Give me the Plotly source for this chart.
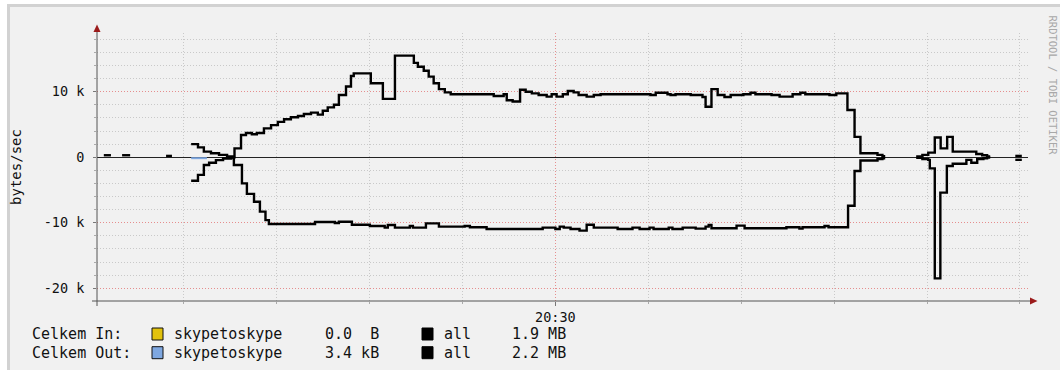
import plotly.graph_objects as go

# ---- data: traffic rate (bytes/sec), step samples; None breaks a line (unknown data)
DAY = "2011-05-10 "

all_in_times = [
    "20:05:42", "20:06:05", None,
    "20:06:41", "20:07:07", None,
    "20:09:03", "20:09:22", None,
    "20:10:24", "20:10:46", "20:11:05", "20:11:28", "20:11:54", "20:12:20", "20:12:39",
    "20:12:44", "20:13:05", "20:13:21", "20:13:40", "20:13:56", "20:14:19", "20:14:42",
    "20:15:04", "20:15:24", "20:15:46", "20:16:09", "20:16:28", "20:16:51", "20:17:13",
    "20:17:29", "20:17:45", "20:18:05", "20:18:21", "20:18:44", "20:19:00", "20:19:09",
    "20:20:04", "20:20:43", "20:21:22", "20:22:23", "20:22:36", "20:22:55", "20:23:11",
    "20:23:27", "20:23:44", "20:24:03", "20:24:22", "20:26:41", "20:27:13", "20:27:23",
    "20:27:42", "20:28:06", "20:28:24", "20:28:44", "20:29:06", "20:29:32", "20:29:48",
    "20:30:04", "20:30:24", "20:30:40", "20:30:59", "20:31:15", "20:31:41", "20:32:04",
    "20:32:26", "20:35:07", "20:35:24", "20:36:02", "20:36:12", "20:36:28", "20:37:17",
    "20:37:55", "20:38:05", "20:38:24", "20:38:44", "20:39:06", "20:39:26", "20:40:07",
    "20:40:30", "20:40:46", "20:41:38", "20:42:04", "20:42:46", "20:43:11", "20:43:27",
    "20:44:45", "20:45:07", "20:45:43", "20:46:06", "20:46:25", "20:47:20", "20:47:36",
    "20:47:45", None,
    "20:49:25", "20:49:45", "20:50:04", "20:50:25", "20:50:44", "20:51:05", "20:51:23",
    "20:52:39", "20:52:58", "20:53:14", "20:53:24", None,
    "20:54:45", "20:55:06",
]
all_in_values = [
    300, 300, None,
    300, 300, None,
    200, 200, None,
    2000, 1500, 850, 600, 350, 100, 0,
    1350, 3400, 3700, 3500, 3700, 4400, 4900,
    5400, 5800, 6100, 6300, 6600, 6800, 6500,
    7100, 7600, 8000, 9500, 10800, 12400, 12800,
    11300, 8900, 15500, 14400, 13800, 13200, 12300,
    11300, 10400, 9900, 9600, 9350, 9600, 8700,
    8500, 10300, 10000, 9750, 9500, 9250, 9600,
    9250, 9600, 10100, 9900, 9500, 9250, 9500,
    9600, 9500, 9850, 9600, 9500, 9600, 9500,
    9200, 7700, 10400, 9500, 9200, 9500, 9600,
    9850, 9600, 9500, 9250, 9600, 9850, 9600,
    9500, 9750, 7200, 3100, 600, 350, 150,
    150, None,
    100, 350, 700, 3000, 1350, 3100, 850,
    500, 300, 100, 100, None,
    200, 200,
]

all_out_times = [
    "20:10:24", "20:10:46", "20:11:05", "20:11:22", "20:11:44", "20:12:07", "20:12:33",
    "20:12:42", "20:13:08", "20:13:24", "20:13:47", "20:14:06", "20:14:24", "20:14:35",
    "20:17:04", "20:18:08", "20:18:21", "20:19:03", "20:20:01", "20:20:49", "20:20:59",
    "20:21:22", "20:22:10", "20:22:20", "20:23:02", "20:23:44", "20:25:07", "20:25:24",
    "20:26:18", "20:29:19", "20:30:00", "20:30:14", "20:30:27", "20:30:49", "20:31:18",
    "20:31:41", "20:32:04", "20:33:21", "20:34:09", "20:34:32", "20:35:04", "20:35:17",
    "20:36:06", "20:36:18", "20:36:51", "20:37:33", "20:38:05", "20:38:15", "20:38:24",
    "20:39:45", "20:40:11", "20:42:26", "20:43:08", "20:43:18", "20:44:29", "20:44:42",
    "20:45:45", "20:46:06", "20:46:25", "20:47:20", "20:47:36", "20:47:45", None,
    "20:49:25", "20:49:45", "20:50:04", "20:50:09", "20:50:25", "20:50:43", "20:51:04",
    "20:51:23", "20:52:07", "20:52:23", "20:52:42", "20:53:02", "20:53:14", "20:53:24", None,
    "20:54:45", "20:55:06",
]
all_out_values = [
    -3600, -2700, -1200, -850, -450, -200, -50,
    -1200, -4000, -5600, -6800, -8300, -9600, -10200,
    -9900, -10050, -9850, -10300, -10500, -10750, -10350,
    -10750, -10500, -10750, -10100, -10600, -10500, -10700,
    -10950, -10750, -10950, -10600, -10750, -10950, -11200,
    -10300, -10750, -10950, -10750, -10950, -10750, -10950,
    -10750, -10950, -10750, -10900, -10600, -10350, -10850,
    -10450, -10850, -10700, -10900, -10700, -10500, -10700,
    -7400, -2100, -500, -300, -150, -150, None,
    -100, -300, -400, -1700, -18500, -5400, -1350,
    -1000, -400, -850, -300, -150, -50, -50, None,
    -400, -400,
]

s2s_out_times = ["20:10:24", "20:11:15"]
s2s_out_values = [-300, -300]

x_range = ["20:05:20", "20:55:26"]
x_tick_times = ["20:30:00"]
x_tick_labels = ["20:30"]
y_tick_values = [-20000, -10000, 0, 10000]
y_tick_labels = ["-20 k", "-10 k", "0", "10 k"]
y_range = [-21950, 18960]

legend_labels = ["Celkem In:", "Celkem Out:"]
legend_series = ["skypetoskype", "skypetoskype"]
legend_s2s_totals = ["0.0\u00a0\u00a0B", "3.4\u00a0kB"]
legend_all_totals = ["1.9\u00a0MB", "2.2\u00a0MB"]

# ---- styling / geometry
W, H = 1060, 370
L, R, T, B = 97, 32, 33, 69
PW, PH = W - L - R, H - T - B
MONO = "DejaVu Sans Mono"
YELLOW = "#E2C20C"
BLUE = "#7EA7E0"
MINOR_GRID = "rgba(175,175,175,0.6)"
MAJOR_GRID = "rgba(245,110,110,0.65)"
DOTS = "1px,2px"


def px2x(px):
    return (px - L) / PW


def px2y(py):
    return (H - B - py) / PH


def stamp(ts):
    return [None if t is None else DAY + t for t in ts]


fig = go.Figure()

fig.add_trace(go.Scatter(
    x=stamp(s2s_out_times), y=s2s_out_values, mode="lines", line_shape="hv",
    line=dict(color=BLUE, width=0), fill="tozeroy", fillcolor=BLUE,
    hoverinfo="skip", showlegend=False,
))
fig.add_trace(go.Scatter(
    x=stamp(all_in_times), y=all_in_values, mode="lines", line_shape="hv",
    line=dict(color="#000000", width=2.4), connectgaps=False, showlegend=False,
))
fig.add_trace(go.Scatter(
    x=stamp(all_out_times), y=all_out_values, mode="lines", line_shape="hv",
    line=dict(color="#000000", width=2.4), connectgaps=False, showlegend=False,
))

shapes = [
    # outer canvas with frame
    dict(type="rect", xref="paper", yref="paper", layer="below",
         x0=px2x(8.5), x1=px2x(1400), y0=px2y(700), y1=px2y(5.5),
         line=dict(color="#D2D2D2", width=3), fillcolor="#F1F1F1"),
    # axis lines
    dict(type="line", xref="paper", yref="paper", x0=px2x(92), x1=px2x(1031),
         y0=0, y1=0, line=dict(color="#555555", width=1)),
    dict(type="line", xref="paper", yref="paper", x0=0, x1=0,
         y0=px2y(306), y1=px2y(30), line=dict(color="#555555", width=1)),
    # axis arrow heads
    dict(type="path", xref="paper", yref="paper", line=dict(width=0), fillcolor="#9B1B1B",
         path=f"M {px2x(L - 3.5)} {px2y(32)} L {px2x(L)} {px2y(24.5)} L {px2x(L + 3.5)} {px2y(32)} Z"),
    dict(type="path", xref="paper", yref="paper", line=dict(width=0), fillcolor="#9B1B1B",
         path=f"M {px2x(1030)} {px2y(297.5)} L {px2x(1037.5)} {px2y(301)} L {px2x(1030)} {px2y(304.5)} Z"),
]

annotations = []
row_y = [334, 352.7]
for i in range(2):
    yc = row_y[i]
    yp = px2y(yc)
    for text, xpx in [(legend_labels[i], 30), (legend_series[i], 172.3),
                      (legend_s2s_totals[i], 323.3), ("all", 441.7),
                      (legend_all_totals[i], 510)]:
        annotations.append(dict(
            text=text, x=px2x(xpx), y=yp, xref="paper", yref="paper",
            xanchor="left", yanchor="middle", showarrow=False,
            font=dict(family=MONO, size=15, color="#111111"),
        ))
    shapes.append(dict(type="rect", xref="paper", yref="paper",
                       x0=px2x(152), x1=px2x(163), y0=px2y(yc + 6), y1=px2y(yc - 6),
                       fillcolor=YELLOW if i == 0 else BLUE,
                       line=dict(color="#111111", width=1)))
    shapes.append(dict(type="rect", xref="paper", yref="paper",
                       x0=px2x(422), x1=px2x(433), y0=px2y(yc + 6), y1=px2y(yc - 6),
                       fillcolor="#000000", line=dict(color="#000000", width=1)))

annotations.append(dict(
    text="RRDTOOL / TOBI OETIKER", x=px2x(1053), y=px2y(85.5), xref="paper", yref="paper",
    xanchor="center", yanchor="middle", textangle=90, showarrow=False,
    font=dict(family=MONO, size=10.5, color="#A8A8A8"),
))

fig.update_layout(
    width=W, height=H, autosize=False,
    margin=dict(l=L, r=R, t=T, b=B, pad=0),
    paper_bgcolor="#FFFFFF", plot_bgcolor="#FFFFFF",
    showlegend=False, shapes=shapes, annotations=annotations,
    xaxis=dict(
        type="date", range=stamp(x_range), fixedrange=True,
        tickmode="array", tickvals=stamp(x_tick_times), ticktext=x_tick_labels,
        tickfont=dict(family=MONO, size=13.5, color="#111111"),
        showgrid=True, gridcolor=MAJOR_GRID, griddash=DOTS, gridwidth=1,
        ticks="outside", ticklen=4, tickcolor="#777777",
        showline=False, zeroline=False,
        minor=dict(dtick=300000, tick0=DAY + "20:00:00", showgrid=True,
                   gridcolor=MINOR_GRID, griddash=DOTS, gridwidth=1,
                   ticks="outside", ticklen=2, tickcolor="#AAAAAA"),
    ),
    yaxis=dict(
        range=y_range, fixedrange=True,
        tickmode="array", tickvals=y_tick_values, ticktext=y_tick_labels,
        tickfont=dict(family=MONO, size=13.5, color="#111111"),
        ticklabelstandoff=6,
        showgrid=True, gridcolor=MAJOR_GRID, griddash=DOTS, gridwidth=1,
        ticks="outside", ticklen=3, tickcolor="#777777",
        showline=False, zeroline=True, zerolinecolor="#222222", zerolinewidth=1,
        minor=dict(dtick=2000, tick0=0, showgrid=True,
                   gridcolor=MINOR_GRID, griddash=DOTS, gridwidth=1,
                   ticks="outside", ticklen=2, tickcolor="#AAAAAA"),
        title=dict(text="bytes/sec", standoff=18,
                   font=dict(family=MONO, size=14, color="#111111")),
    ),
)

fig.write_html("out.html")
